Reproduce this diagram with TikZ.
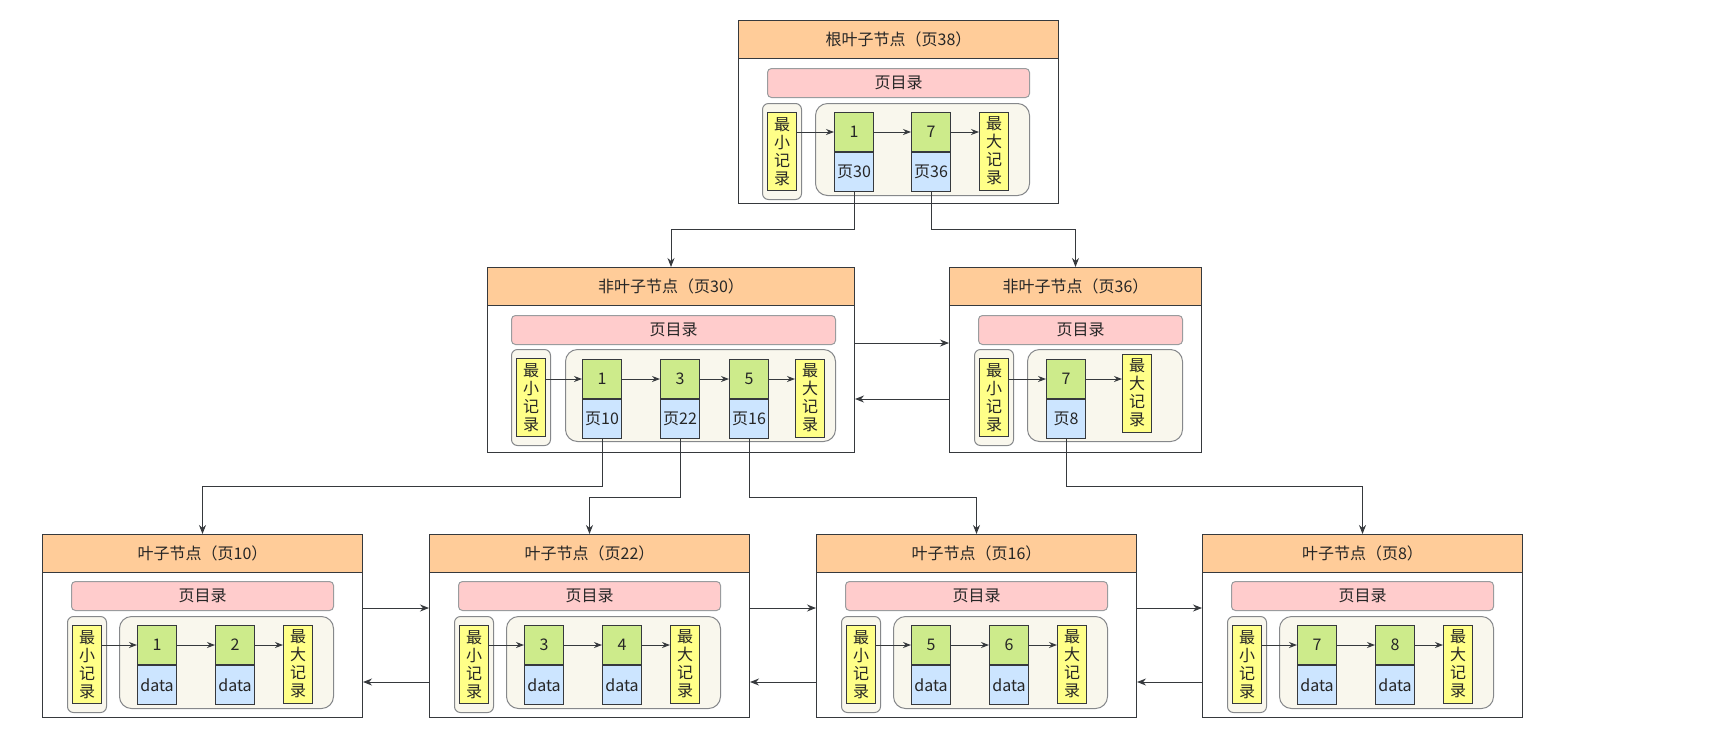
\documentclass[tikz,border=0pt]{standalone}
\usepackage{fontspec}
\setmainfont{Noto Sans CJK SC}
\usetikzlibrary{positioning,arrows.meta}

\definecolor{headorange}{HTML}{FFCC99}
\definecolor{dirpink}{HTML}{FFCCCC}
\definecolor{keygreen}{HTML}{CDEB8B}
\definecolor{ptrblue}{HTML}{CCE5FF}
\definecolor{recyellow}{HTML}{FFFF88}
\definecolor{groupbg}{HTML}{F9F7ED}
\definecolor{edge}{HTML}{36393D}

\tikzset{
  every node/.style={font=\fontsize{16}{18}\selectfont, text=black!85},
  page/.style={draw=edge, fill=white, anchor=north west, minimum width=#1, minimum height=183pt, inner sep=0pt},
  head/.style={draw=edge, fill=headorange, anchor=north west, minimum width=#1, minimum height=38pt},
  pagedir/.style={draw=edge!50, fill=dirpink, rounded corners=4pt, anchor=north west, minimum width=#1, minimum height=29pt},
  group/.style={draw=edge!60, fill=groupbg, rounded corners=12pt, anchor=north west, minimum width=#1, minimum height=92pt},
  mingroup/.style={draw=edge!60, fill=groupbg, rounded corners=6pt, anchor=north west, minimum width=39pt, minimum height=96pt},
  rec/.style={draw=edge, fill=recyellow, minimum width=29pt, minimum height=78pt, align=center, inner sep=0pt},
  key/.style={draw=edge, fill=keygreen, anchor=north west, minimum width=39pt, minimum height=39pt, inner sep=0pt},
  ptr/.style={draw=edge, fill=ptrblue, minimum width=39pt, minimum height=39pt, inner sep=0pt, below=0pt of #1},
  next/.style={draw=edge, -{Stealth[length=8pt,width=6pt]}},
  link/.style={draw=edge, -{Stealth[length=9pt,width=7pt]}}
}

\begin{document}
\begin{tikzpicture}[x=1pt, y=-1pt, line width=1pt]
    \useasboundingbox (0,0) rectangle (1720,740);

    % root page
    \begin{scope}[shift={(738,20)}]
        \node[page=320pt] (p38) at (0,0) {};
        \node[head=320pt] (h38) at (0,0) {根叶子节点（页38）};
        \node[pagedir=262pt] (d38) at (29,48) {页目录};
        \node[mingroup] (g38) at (24,83) {};
        \node[rec] (min38) at (g38.center) {最\\小\\记\\录};
        \node[group=214pt] (s38) at (77,83) {};
        \node[key] (k38a) at (96,92) {1};
        \node[ptr=k38a] (c38a) {页30};
        \node[key] (k38b) at (173,92) {7};
        \node[ptr=k38b] (c38b) {页36};
        \node[rec] (max38) at (256,131) {最\\大\\记\\录};
        \draw[next] (min38.east |- k38a) -- (k38a);
        \draw[next] (k38a) -- (k38b);
        \draw[next] (k38b) -- (k38b -| max38.west);
    \end{scope}

    % non-leaf pages
    \begin{scope}[shift={(487,267)}]
        \node[page=367pt, minimum height=185pt] (p30) at (0,0) {};
        \node[head=367pt] (h30) at (0,0) {非叶子节点（页30）};
        \node[pagedir=324pt] (d30) at (24,48) {页目录};
        \node[mingroup] (g30) at (24,82) {};
        \node[rec] (min30) at (g30.center) {最\\小\\记\\录};
        \node[group=270pt] (s30) at (78,82) {};
        \node[key] (k30a) at (95,92) {1};
        \node[ptr=k30a] (c30a) {页10};
        \node[key] (k30b) at (173,92) {3};
        \node[ptr=k30b] (c30b) {页22};
        \node[key] (k30c) at (242,92) {5};
        \node[ptr=k30c] (c30c) {页16};
        \node[rec] (max30) at (323,131) {最\\大\\记\\录};
        \draw[next] (min30.east |- k30a) -- (k30a);
        \draw[next] (k30a) -- (k30b);
        \draw[next] (k30b) -- (k30c);
        \draw[next] (k30c) -- (k30c -| max30.west);
    \end{scope}

    \begin{scope}[shift={(949,267)}]
        \node[page=252pt, minimum height=185pt] (p36) at (0,0) {};
        \node[head=252pt] (h36) at (0,0) {非叶子节点（页36）};
        \node[pagedir=204pt] (d36) at (29,48) {页目录};
        \node[mingroup] (g36) at (25,82) {};
        \node[rec] (min36) at (g36.center) {最\\小\\记\\录};
        \node[group=155pt] (s36) at (78,82) {};
        \node[key] (k36a) at (97,92) {7};
        \node[ptr=k36a] (c36a) {页8};
        \node[rec] (max36) at (188,126) {最\\大\\记\\录};
        \draw[next] (min36.east |- k36a) -- (k36a);
        \draw[next] (k36a) -- (k36a -| max36.west);
    \end{scope}

    % leaf pages
    \begin{scope}[shift={(42,534)}]
        \node[page=320pt] (p10) at (0,0) {};
        \node[head=320pt] (h10) at (0,0) {叶子节点（页10）};
        \node[pagedir=262pt] (d10) at (29,47) {页目录};
        \node[mingroup] (g10) at (25,82) {};
        \node[rec] (min10) at (g10.center) {最\\小\\记\\录};
        \node[group=214pt] (s10) at (77,82) {};
        \node[key] (k10a) at (95,91) {1};
        \node[ptr=k10a] (v10a) {data};
        \node[key] (k10b) at (173,91) {2};
        \node[ptr=k10b] (v10b) {data};
        \node[rec] (max10) at (256,130) {最\\大\\记\\录};
        \draw[next] (min10.east |- k10a) -- (k10a);
        \draw[next] (k10a) -- (k10b);
        \draw[next] (k10b) -- (k10b -| max10.west);
    \end{scope}

    \begin{scope}[shift={(429,534)}]
        \node[page=320pt] (p22) at (0,0) {};
        \node[head=320pt] (h22) at (0,0) {叶子节点（页22）};
        \node[pagedir=262pt] (d22) at (29,47) {页目录};
        \node[mingroup] (g22) at (25,82) {};
        \node[rec] (min22) at (g22.center) {最\\小\\记\\录};
        \node[group=214pt] (s22) at (77,82) {};
        \node[key] (k22a) at (95,91) {3};
        \node[ptr=k22a] (v22a) {data};
        \node[key] (k22b) at (173,91) {4};
        \node[ptr=k22b] (v22b) {data};
        \node[rec] (max22) at (256,130) {最\\大\\记\\录};
        \draw[next] (min22.east |- k22a) -- (k22a);
        \draw[next] (k22a) -- (k22b);
        \draw[next] (k22b) -- (k22b -| max22.west);
    \end{scope}

    \begin{scope}[shift={(816,534)}]
        \node[page=320pt] (p16) at (0,0) {};
        \node[head=320pt] (h16) at (0,0) {叶子节点（页16）};
        \node[pagedir=262pt] (d16) at (29,47) {页目录};
        \node[mingroup] (g16) at (25,82) {};
        \node[rec] (min16) at (g16.center) {最\\小\\记\\录};
        \node[group=214pt] (s16) at (77,82) {};
        \node[key] (k16a) at (95,91) {5};
        \node[ptr=k16a] (v16a) {data};
        \node[key] (k16b) at (173,91) {6};
        \node[ptr=k16b] (v16b) {data};
        \node[rec] (max16) at (256,130) {最\\大\\记\\录};
        \draw[next] (min16.east |- k16a) -- (k16a);
        \draw[next] (k16a) -- (k16b);
        \draw[next] (k16b) -- (k16b -| max16.west);
    \end{scope}

    \begin{scope}[shift={(1202,534)}]
        \node[page=320pt] (p8) at (0,0) {};
        \node[head=320pt] (h8) at (0,0) {叶子节点（页8）};
        \node[pagedir=262pt] (d8) at (29,47) {页目录};
        \node[mingroup] (g8) at (25,82) {};
        \node[rec] (min8) at (g8.center) {最\\小\\记\\录};
        \node[group=214pt] (s8) at (77,82) {};
        \node[key] (k8a) at (95,91) {7};
        \node[ptr=k8a] (v8a) {data};
        \node[key] (k8b) at (173,91) {8};
        \node[ptr=k8b] (v8b) {data};
        \node[rec] (max8) at (256,130) {最\\大\\记\\录};
        \draw[next] (min8.east |- k8a) -- (k8a);
        \draw[next] (k8a) -- (k8b);
        \draw[next] (k8b) -- (k8b -| max8.west);
    \end{scope}

    % child pointers
    \draw[link] (c38a.south) -- ++(0,37) -| (p30.north);
    \draw[link] (c38b.south) -- ++(0,37) -| (p36.north);
    \draw[link] (c30a.south) -- ++(0,47) -| (p10.north);
    \draw[link] (c30b.south) -- ++(0,58) -| (p22.north);
    \draw[link] (c30c.south) -- ++(0,58) -| (p16.north);
    \draw[link] (c36a.south) -- ++(0,47) -| (p8.north);

    % sibling links
    \draw[link] ([yshift=17pt]p30.east) -- ([yshift=17pt]p36.west);
    \draw[link] ([yshift=-39pt]p36.west) -- ([yshift=-39pt]p30.east);
    \draw[link] ([yshift=18pt]p10.east) -- ([yshift=18pt]p22.west);
    \draw[link] ([yshift=-56pt]p22.west) -- ([yshift=-56pt]p10.east);
    \draw[link] ([yshift=18pt]p22.east) -- ([yshift=18pt]p16.west);
    \draw[link] ([yshift=-56pt]p16.west) -- ([yshift=-56pt]p22.east);
    \draw[link] ([yshift=18pt]p16.east) -- ([yshift=18pt]p8.west);
    \draw[link] ([yshift=-56pt]p8.west) -- ([yshift=-56pt]p16.east);
\end{tikzpicture}
\end{document}
